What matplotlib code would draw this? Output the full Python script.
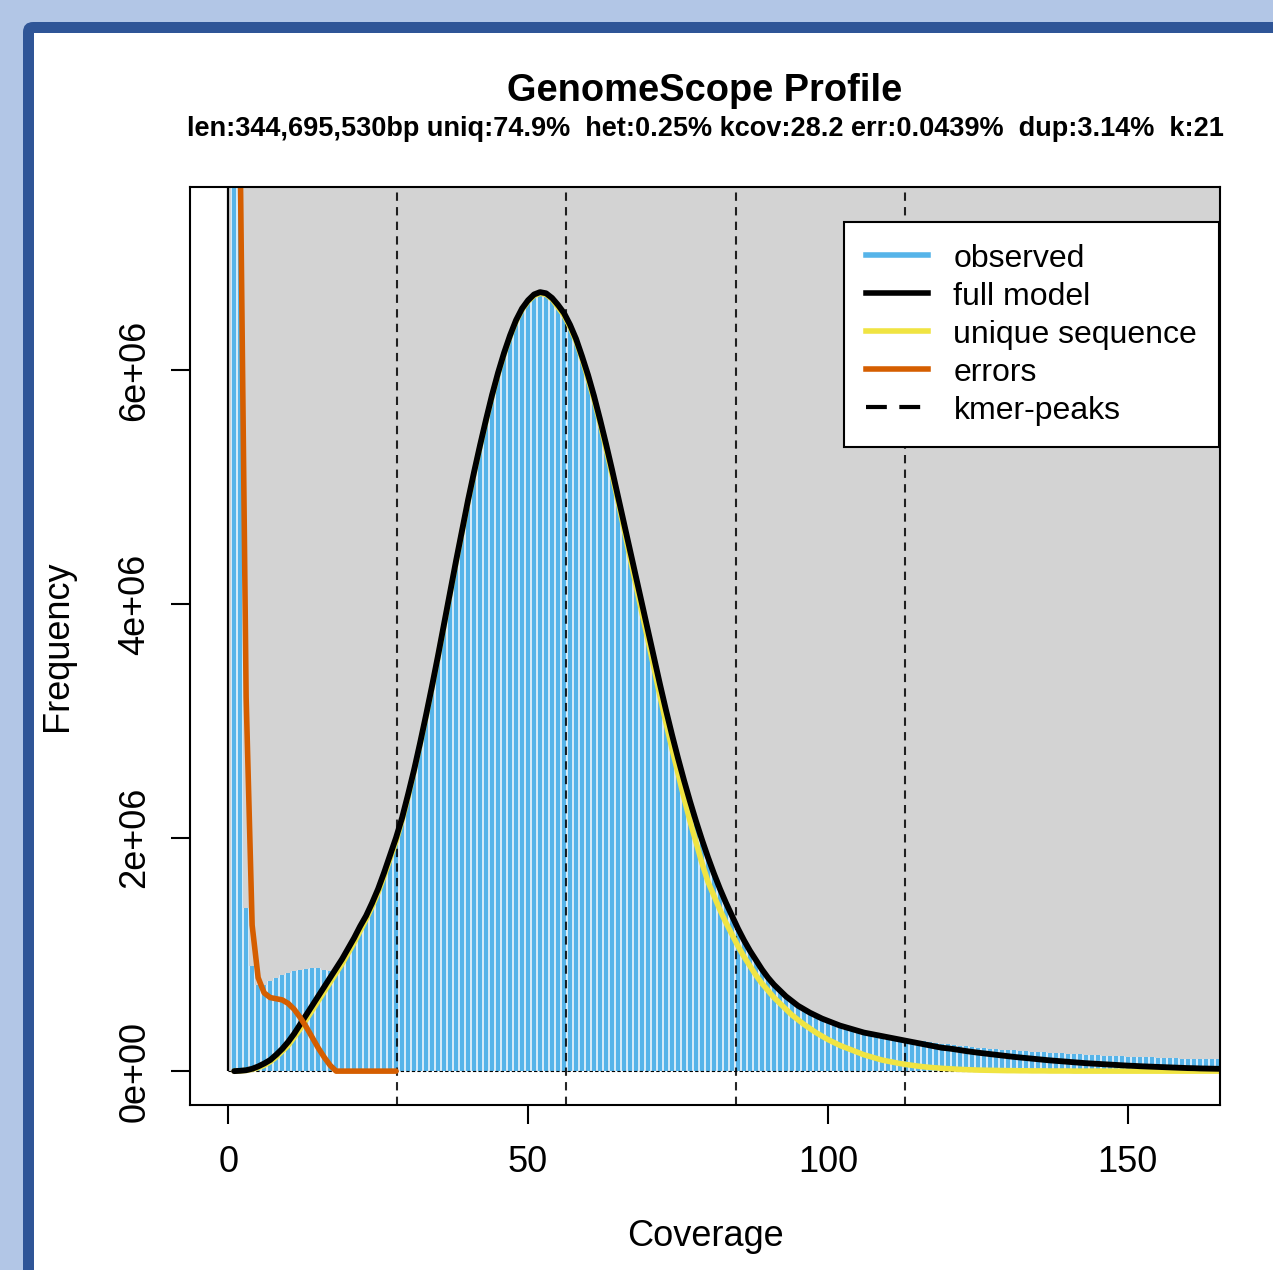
import numpy as np
import matplotlib
matplotlib.use("Agg")
import matplotlib.pyplot as plt
from matplotlib.lines import Line2D
from matplotlib.patches import FancyBboxPatch, Rectangle

plt.rcParams["font.family"] = ["Liberation Sans", "DejaVu Sans"]

W, H = 1273, 1270

# ---- data (frequencies in millions of k-mers) ----
coverage = np.arange(1, 167)

observed = np.array([
    80, 15, 1.4, 0.9, 0.74, 0.74, 0.77, 0.80, 0.82, 0.84,
    0.86, 0.87, 0.875, 0.88, 0.88, 0.87, 0.86, 0.87, 0.93, 1.01,
    1.12, 1.21, 1.31, 1.42, 1.54, 1.68, 1.83, 1.99, 2.16, 2.36,
    2.57, 2.80, 3.04, 3.29, 3.55, 3.82, 4.09, 4.36, 4.62, 4.88,
    5.12, 5.35, 5.57, 5.78, 5.97, 6.14, 6.29, 6.42, 6.52, 6.60,
    6.64, 6.66, 6.65, 6.61, 6.55, 6.48, 6.38, 6.26, 6.11, 5.95,
    5.77, 5.57, 5.36, 5.14, 4.91, 4.68, 4.45, 4.22, 3.99, 3.76,
    3.53, 3.30, 3.08, 2.87, 2.67, 2.48, 2.30, 2.13, 1.97, 1.82,
    1.68, 1.55, 1.43, 1.32, 1.21, 1.11, 1.02, 0.94, 0.86, 0.79,
    0.73, 0.68, 0.63, 0.59, 0.55, 0.52, 0.49, 0.465, 0.44, 0.42,
    0.40, 0.385, 0.37, 0.355, 0.34, 0.33, 0.32, 0.31, 0.30, 0.29,
    0.28, 0.275, 0.27, 0.265, 0.26, 0.254, 0.248, 0.242, 0.236, 0.23,
    0.224, 0.218, 0.212, 0.206, 0.20, 0.196, 0.192, 0.188, 0.184, 0.18,
    0.177, 0.174, 0.171, 0.168, 0.165, 0.162, 0.159, 0.156, 0.153, 0.15,
    0.147, 0.144, 0.141, 0.138, 0.135, 0.133, 0.131, 0.129, 0.127, 0.125,
    0.123, 0.121, 0.119, 0.117, 0.115, 0.113, 0.111, 0.109, 0.107, 0.105,
    0.104, 0.103, 0.102, 0.101, 0.10, 0.099,
])

full_model = np.array([
    0.0, 0.003, 0.008, 0.02, 0.04, 0.065, 0.095, 0.14, 0.19, 0.25,
    0.32, 0.40, 0.48, 0.56, 0.64, 0.72, 0.80, 0.88, 0.96, 1.05,
    1.14, 1.24, 1.33, 1.44, 1.56, 1.70, 1.85, 2.00, 2.17, 2.37,
    2.58, 2.81, 3.05, 3.30, 3.56, 3.83, 4.10, 4.37, 4.63, 4.89,
    5.13, 5.36, 5.58, 5.79, 5.98, 6.15, 6.30, 6.43, 6.53, 6.60,
    6.65, 6.67, 6.66, 6.62, 6.56, 6.49, 6.39, 6.27, 6.12, 5.96,
    5.78, 5.58, 5.37, 5.15, 4.92, 4.69, 4.46, 4.23, 4.00, 3.77,
    3.54, 3.31, 3.09, 2.88, 2.68, 2.49, 2.31, 2.14, 1.98, 1.83,
    1.69, 1.56, 1.44, 1.33, 1.22, 1.12, 1.03, 0.95, 0.87, 0.80,
    0.74, 0.69, 0.64, 0.60, 0.56, 0.53, 0.50, 0.475, 0.45, 0.43,
    0.41, 0.39, 0.375, 0.36, 0.345, 0.33, 0.32, 0.31, 0.30, 0.29,
    0.28, 0.27, 0.26, 0.25, 0.24, 0.23, 0.22, 0.21, 0.20, 0.195,
    0.188, 0.18, 0.172, 0.165, 0.158, 0.152, 0.146, 0.14, 0.134, 0.128,
    0.122, 0.117, 0.112, 0.107, 0.102, 0.097, 0.092, 0.088, 0.084, 0.08,
    0.076, 0.072, 0.068, 0.065, 0.062, 0.059, 0.056, 0.053, 0.05, 0.047,
    0.045, 0.042, 0.04, 0.038, 0.036, 0.034, 0.032, 0.03, 0.028, 0.026,
    0.025, 0.023, 0.022, 0.021, 0.02, 0.019,
])

unique_seq = np.array([
    0.0, 0.002, 0.006, 0.015, 0.03, 0.05, 0.08, 0.12, 0.17, 0.22,
    0.29, 0.36, 0.44, 0.52, 0.60, 0.68, 0.76, 0.84, 0.92, 1.01,
    1.10, 1.20, 1.30, 1.41, 1.53, 1.67, 1.82, 1.97, 2.15, 2.35,
    2.57, 2.80, 3.04, 3.29, 3.55, 3.82, 4.09, 4.36, 4.62, 4.88,
    5.12, 5.35, 5.57, 5.78, 5.97, 6.14, 6.29, 6.42, 6.52, 6.59,
    6.64, 6.66, 6.65, 6.61, 6.54, 6.47, 6.37, 6.25, 6.10, 5.93,
    5.75, 5.55, 5.33, 5.11, 4.88, 4.64, 4.40, 4.16, 3.92, 3.69,
    3.45, 3.21, 2.98, 2.76, 2.55, 2.34, 2.14, 1.96, 1.78, 1.62,
    1.50, 1.38, 1.27, 1.17, 1.07, 0.98, 0.90, 0.82, 0.75, 0.69,
    0.63, 0.58, 0.53, 0.48, 0.44, 0.40, 0.365, 0.33, 0.30, 0.27,
    0.245, 0.22, 0.20, 0.18, 0.16, 0.14, 0.125, 0.11, 0.095, 0.085,
    0.075, 0.065, 0.057, 0.05, 0.043, 0.037, 0.032, 0.028, 0.024, 0.021,
    0.018, 0.015, 0.013, 0.011, 0.009, 0.008, 0.007, 0.006, 0.005, 0.004,
    0.004, 0.003, 0.003, 0.002, 0.002, 0.002, 0.001, 0.001, 0.001, 0.001,
    0, 0, 0, 0, 0, 0, 0, 0, 0, 0,
    0, 0, 0, 0, 0, 0, 0, 0, 0, 0,
    0, 0, 0, 0, 0, 0,
])

error_cov = np.arange(1, 29)
errors = np.array([
    60, 7.9, 3.2, 1.25, 0.8, 0.67, 0.63, 0.62, 0.61, 0.58,
    0.53, 0.46, 0.38, 0.29, 0.2, 0.12, 0.05, 0, 0, 0,
    0, 0, 0, 0, 0, 0, 0, 0,
])

kmer_peaks = [28.2, 56.4, 84.6, 112.8]

title = "GenomeScope Profile"
subtitle = ("len:344,695,530bp uniq:74.9%  het:0.25% kcov:28.2 "
            "err:0.0439%  dup:3.14%  k:21")
legend_labels = ["observed", "full model", "unique sequence", "errors", "kmer-peaks"]

# ---- colours ----
C_HIST = "#56B4E9"
C_GAP = "#d4eaf8"
C_UNIQUE = "#F0E442"
C_ERR = "#D55E00"
C_BG = "#D3D3D3"

scale = 1e6

fig = plt.figure(figsize=(W / 100, H / 100), dpi=100)
fig.patch.set_facecolor("#b2c6e6")

# slide-like frame around the plot
fig.add_artist(FancyBboxPatch(
    (23 / W, -0.2), 1.3, 0.2 + 1 - 22 / H,
    boxstyle="round,pad=0,rounding_size=0.008",
    transform=fig.transFigure, facecolor="#2f5597", edgecolor="none", zorder=-2))
fig.add_artist(Rectangle(
    (34 / W, -0.2), 1.3, 0.2 + 1 - 33 / H,
    transform=fig.transFigure, facecolor="white", edgecolor="none", zorder=-1))

ax = fig.add_axes([190 / W, 1 - 1105 / H, 1030 / W, 918 / H])
ax.set_xlim(-6.36, 165.36)
ax.set_ylim(-0.29e6, 7.57e6)
ax.set_facecolor("white")

# grey panel from coverage 0
ax.add_patch(Rectangle((0, 0), 200, 1e8, facecolor=C_BG, edgecolor="none", zorder=0))

# observed histogram
ax.bar(coverage, observed * scale, width=1.0, color=C_GAP, linewidth=0, zorder=1)
ax.bar(coverage, observed * scale, width=0.58, color=C_HIST, linewidth=0, zorder=1.5)

ax.vlines(0, 0, 1e8, color="black", lw=1.6, zorder=2)
ax.hlines(0, 0, 200, color="black", lw=0.8, linestyles=(0, (3, 2)), zorder=2)

for p in kmer_peaks:
    ax.axvline(p, color="black", lw=1.5, ls=(0, (4, 3)), alpha=0.85, zorder=2.5)

ax.plot(coverage, unique_seq * scale, color=C_UNIQUE, lw=4, zorder=3, solid_capstyle="round")
ax.plot(coverage, full_model * scale, color="black", lw=4.2, zorder=3.2, solid_capstyle="round")
ax.plot(error_cov, errors * scale, color=C_ERR, lw=4, zorder=3.4, solid_capstyle="round")

# axes styling
for s in ax.spines.values():
    s.set_linewidth(1.5)
    s.set_zorder(5)
ax.set_xticks([0, 50, 100, 150])
ax.set_xticklabels(["0", "50", "100", "150"])
yt = [0, 2e6, 4e6, 6e6]
ax.set_yticks(yt)
ax.set_yticklabels([f"{v:.0e}" for v in yt], rotation=90, va="center")
ax.tick_params(axis="both", length=14, width=1.5, labelsize=26)
ax.tick_params(axis="x", pad=15)
ax.tick_params(axis="y", pad=13)

fig.text(705 / W, 1 - 1237 / H, "Coverage", ha="center", va="center", fontsize=26)
fig.text(57 / W, 1 - 646 / H, "Frequency", ha="center", va="center",
         rotation=90, fontsize=26)

fig.text(705 / W, 1 - 91 / H, title, ha="center", va="center",
         fontsize=27.4, fontweight="bold")
fig.text(705 / W, 1 - 129 / H, subtitle, ha="center", va="center",
         fontsize=19.5, fontweight="bold")

handles = [
    Line2D([], [], color=C_HIST, lw=4),
    Line2D([], [], color="black", lw=4),
    Line2D([], [], color=C_UNIQUE, lw=4),
    Line2D([], [], color=C_ERR, lw=4),
    Line2D([], [], color="black", lw=3, ls=(0, (5, 3))),
]
leg = ax.legend(handles, legend_labels, loc="upper right",
                bbox_to_anchor=(0.999, 0.962), fontsize=23,
                frameon=True, fancybox=False, framealpha=1,
                edgecolor="black", handlelength=1.95, handletextpad=0.8,
                labelspacing=0.25, borderpad=0.68, borderaxespad=0)
leg.get_frame().set_linewidth(1.5)
leg.set_zorder(6)

fig.savefig("out.png", dpi=100, facecolor=fig.get_facecolor())
